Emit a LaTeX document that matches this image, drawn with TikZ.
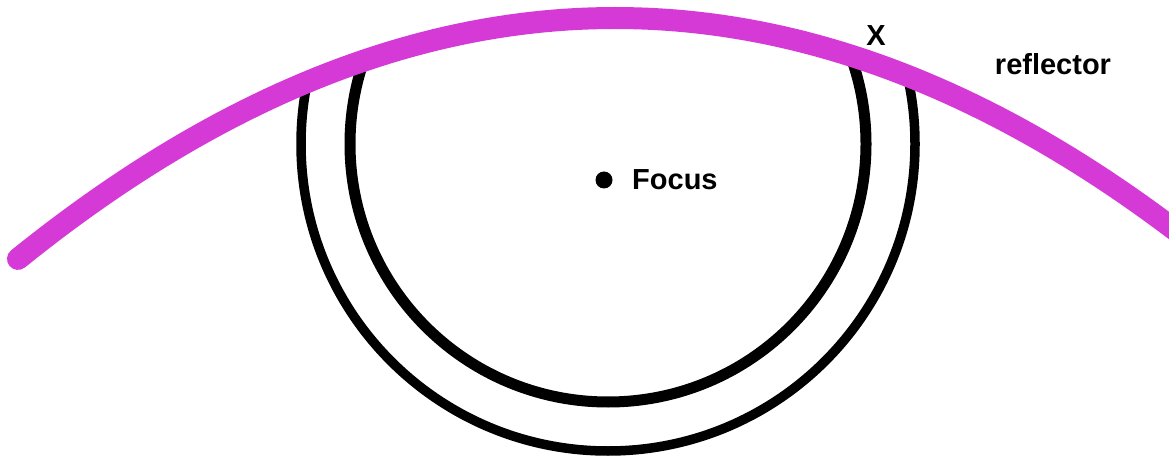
\documentclass[tikz,border=0pt]{standalone}
\usepackage{fontspec}
\setmainfont{Liberation Sans}
\usepackage{tikz}
\usetikzlibrary{positioning}
\definecolor{refl}{HTML}{D63AD6}

\begin{document}
\begin{tikzpicture}[x=0.2mm,y=-0.2mm,lbl/.style={font=\fontsize{16.5}{20}\selectfont\bfseries,inner sep=0pt}]
\useasboundingbox (0,0) rectangle (1169,457);
\begin{scope}
\clip (0,470) -- plot[domain=0:1169,samples=90] (\x,{18+676*((\x-615)/1000)^2}) -- (1169,470) -- cycle;
\draw[line width=2.2mm] (608,144) circle (258);
\draw[line width=1.9mm] (608,144) circle (307);
\end{scope}
\draw[refl,line width=4.4mm,line cap=round] plot[domain=18:1200,samples=100] (\x,{18+676*((\x-615)/1000)^2});
\node[circle,fill,inner sep=0pt,minimum size=3.4mm] (focus) at (604,180) {};
\node[lbl,right=3.8mm of focus] (focuslbl) {Focus};
\node[lbl] (xmark) at (876,36) {X};
\node[lbl] (refllbl) at (1053,64) {reflector};
\end{tikzpicture}
\end{document}
